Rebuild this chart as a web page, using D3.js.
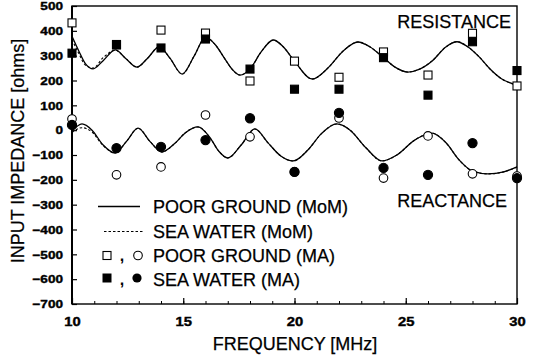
<!DOCTYPE html>
<html><head><meta charset="utf-8">
<script src="https://cdn.jsdelivr.net/npm/d3@7"></script>
<style>body{margin:0;background:#fff}svg{display:block}</style>
</head><body>
<script>
// ---- data ----
const freqMA = [10,12,14,16,18,20,22,24,26,28,30];
const resPoorMA = [432,345,403,391,198,278,213,315,222,390,178];
const resSeaMA  = [310,343,331,367,246,165,165,292,141,356,240];
const reaPoorMA = [45,-180,-148,61,-27,-168,49,-193,-23,-176,-185];
const reaSeaMA  = [21,-72,-67,-40,48,-168,70,-152,-180,-52,-193];

const resFreq    = [10,10.3,10.6,10.95,11.4,11.95,12.4,12.92,13.4,13.92,14.4,14.95,15.5,16.0,16.45,16.9,17.2,17.55,18.0,18.5,19.05,19.5,20.0,20.8,21.5,22.2,22.85,23.4,24.0,24.5,25.1,25.6,26.2,26.8,27.3,27.8,28.3,28.8,29.3,29.7,30];
const resPoorMoM = [378,320,268,247,280,323,290,254,290,336,290,226,300,375,343,283,245,222,246,315,363,335,278,206,250,320,355,335,292,255,234,245,280,335,356,335,295,245,207,190,182];
const resSeaMoM  = [365,310,262,250,292,322,290,254,290,336,290,226,300,375,343,283,245,222,246,315,363,335,278,206,250,320,355,335,292,255,234,245,280,335,356,335,295,245,207,190,182];

const reaFreq    = [10,10.45,10.9,11.4,11.93,12.45,12.97,13.5,14.04,14.6,15.1,15.66,16.2,16.6,17.0,17.6,18.22,18.8,19.4,19.93,20.6,21.2,21.9,22.5,23.2,23.93,24.6,25.4,26.18,26.8,27.4,28.0,28.7,29.4,30];
const reaPoorMoM = [-5,25,0,-60,-92,-45,8,-45,-88,-55,-10,13,-30,-85,-112,-60,5,-50,-105,-124,-80,-15,25,0,-70,-124,-100,-40,-12,-50,-120,-165,-176,-168,-148];
const reaSeaMoM  = [-10,10,-8,-62,-92,-45,8,-45,-88,-55,-10,13,-30,-85,-112,-60,5,-50,-105,-124,-80,-15,25,0,-70,-124,-100,-40,-12,-50,-120,-165,-176,-168,-148];

const yTicks = [500,400,300,200,100,0,-100,-200,-300,-400,-500,-600,-700];
const xTicks = [10,15,20,25,30];
const xMinor = d3.range(10,31,1);

const legendItems = ["POOR GROUND (MoM)","SEA WATER (MoM)","POOR GROUND (MA)","SEA WATER (MA)"];

// ---- layout ----
const W=539,H=356, L=72, R=517, T=6, B=304;
const svg=d3.select("body").append("svg").attr("width",W).attr("height",H);
const x=d3.scaleLinear().domain([10,30]).range([L,R]);
const y=d3.scaleLinear().domain([-700,500]).range([B,T]);
const font="'Liberation Sans', Arial, sans-serif";

// frame
svg.append("rect").attr("x",L).attr("y",T).attr("width",R-L).attr("height",B-T)
  .attr("fill","none").attr("stroke","#000").attr("stroke-width",1.4);
svg.append("line").attr("x1",L).attr("x2",L).attr("y1",T).attr("y2",B).attr("stroke","#000").attr("stroke-width",2);

// y axis
const yAxis=svg.append("g").attr("transform",`translate(${L},0)`)
  .call(d3.axisLeft(y).tickValues(yTicks).tickSize(-5).tickPadding(9).tickFormat(d3.format("d")));
yAxis.select(".domain").remove();
yAxis.selectAll("line").attr("stroke","#000").attr("stroke-width",1.2);
yAxis.selectAll("text").attr("font-family",font).attr("font-weight","bold").attr("font-size",11.5).attr("fill","#000")
  .attr("stroke","#000").attr("stroke-width",0.4);

// x axis
const xAxisMinor=svg.append("g").attr("transform",`translate(0,${B})`)
  .call(d3.axisBottom(x).tickValues(xMinor).tickSize(-3).tickFormat(""));
xAxisMinor.select(".domain").remove();
xAxisMinor.selectAll("line").attr("stroke","#000");
const xAxis=svg.append("g").attr("transform",`translate(0,${B})`)
  .call(d3.axisBottom(x).tickValues(xTicks).tickSize(-6).tickPadding(13).tickFormat(d3.format("d")));
xAxis.select(".domain").remove();
xAxis.selectAll("line").attr("stroke","#000").attr("stroke-width",1.2);
xAxis.selectAll("text").attr("font-family",font).attr("font-weight","bold").attr("font-size",12.5).attr("fill","#000")
  .attr("stroke","#000").attr("stroke-width",0.4);

// stretch tick labels horizontally
svg.selectAll(".tick text").each(function(){
  const len=this.getComputedTextLength();
  if(len>0){ d3.select(this).attr("textLength",len*1.18).attr("lengthAdjust","spacingAndGlyphs"); }
});

// curves
const line=(fs,vs)=>d3.line().curve(d3.curveMonotoneX).x((d,i)=>x(fs[i])).y(d=>y(d))(vs);
const curves=[
  [resFreq,resPoorMoM,null],[resFreq,resSeaMoM,"2.5,2"],
  [reaFreq,reaPoorMoM,null],[reaFreq,reaSeaMoM,"2.5,2"]
];
curves.forEach(([fs,vs,dash])=>{
  svg.append("path").attr("d",line(fs,vs)).attr("fill","none").attr("stroke","#000")
    .attr("stroke-width",dash?1.1:1.3).attr("stroke-dasharray",dash);
});

// markers
const S=8;
function squares(vals,filled){
  svg.append("g").selectAll("rect").data(vals).join("rect")
    .attr("x",(d,i)=>x(freqMA[i])-S/2).attr("y",d=>y(d)-S/2).attr("width",S).attr("height",S)
    .attr("fill",filled?"#000":"#fff").attr("stroke","#000").attr("stroke-width",1.1);
}
function circles(vals,filled){
  svg.append("g").selectAll("circle").data(vals).join("circle")
    .attr("cx",(d,i)=>x(freqMA[i])).attr("cy",d=>y(d)).attr("r",filled?4.6:4.3)
    .attr("fill",filled?"#000":"#fff").attr("stroke","#000").attr("stroke-width",1.1);
}
squares(resPoorMA,false); squares(resSeaMA,true);
circles(reaPoorMA,false); circles(reaSeaMA,true);

const txt=(sel)=>sel.attr("font-family",font).attr("font-size",18).attr("stroke","#000").attr("stroke-width",0.25);

// labels
txt(svg.append("text").attr("x",511).attr("y",28).attr("text-anchor","end")).text("RESISTANCE");
txt(svg.append("text").attr("x",507).attr("y",207).attr("text-anchor","end")).text("REACTANCE");

// legend
const legY=[213,238,262,286];
const lg=svg.append("g");
txt(lg.selectAll("text.lt").data(legendItems).join("text").attr("class","lt")
  .attr("x",153).attr("y",(d,i)=>legY[i])).text(d=>d);
lg.append("line").attr("x1",98).attr("x2",140).attr("y1",legY[0]-6.5).attr("y2",legY[0]-6.5).attr("stroke","#000").attr("stroke-width",1.3);
lg.append("line").attr("x1",104).attr("x2",143).attr("y1",legY[1]-6.5).attr("y2",legY[1]-6.5).attr("stroke","#000").attr("stroke-width",1.1).attr("stroke-dasharray","2.5,2");
lg.append("rect").attr("x",107-S/2).attr("y",legY[2]-6.5-S/2).attr("width",S).attr("height",S).attr("fill","#fff").attr("stroke","#000").attr("stroke-width",1.1);
lg.append("circle").attr("cx",138).attr("cy",legY[2]-6.5).attr("r",4.3).attr("fill","#fff").attr("stroke","#000").attr("stroke-width",1.1);
lg.append("rect").attr("x",107-S/2).attr("y",legY[3]-8-S/2).attr("width",S).attr("height",S).attr("fill","#000").attr("stroke","#000");
lg.append("circle").attr("cx",137).attr("cy",legY[3]-8).attr("r",4.6).attr("fill","#000");
[2,3].forEach(i=>lg.append("text").attr("x",122).attr("y",legY[i]-1).attr("text-anchor","middle").attr("font-family",font).attr("font-weight","bold").attr("font-size",16).text(","));

// axis titles
txt(svg.append("text").attr("x",295).attr("y",350).attr("text-anchor","middle")).text("FREQUENCY [MHz]");
txt(svg.append("text").attr("transform","translate(24,151) rotate(-90)").attr("text-anchor","middle")).text("INPUT IMPEDANCE [ohms]");
</script>
</body></html>
